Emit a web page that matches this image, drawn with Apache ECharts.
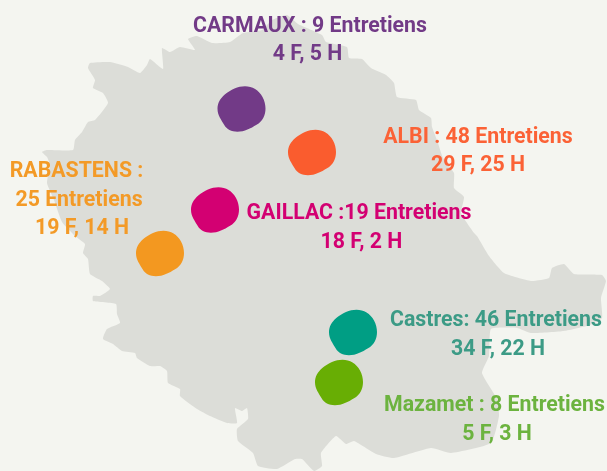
<!DOCTYPE html>
<html>
<head>
<meta charset="utf-8">
<style>
  html, body { margin: 0; padding: 0; background: #f4f5f0; }
  #chart { width: 607px; height: 471px; }
</style>
<script src="https://cdn.jsdelivr.net/npm/echarts@6/dist/echarts.min.js"></script>
</head>
<body>
<div id="chart"></div>
<script>
// villes et points sur la carte
var cities = ['CARMAUX', 'ALBI', 'GAILLAC', 'RABASTENS', 'Castres', 'Mazamet'];
var cityX = [241.5, 312, 215, 160, 353, 339];
var cityY = [109, 152.5, 210, 253.5, 332.5, 382.5];
var cityColors = ['#723a87', '#fa5c2e', '#d30072', '#f39820', '#009e84', '#68ae04'];

// texte, ligne par ligne
var lineTexts = [
  'CARMAUX : 9 Entretiens', '4 F, 5 H',
  'ALBI : 48 Entretiens', '29 F, 25 H',
  'GAILLAC :19 Entretiens', '18 F, 2 H',
  'RABASTENS :', '25 Entretiens', '19 F, 14 H',
  'Castres: 46 Entretiens', '34 F, 22 H',
  'Mazamet : 8 Entretiens', '5 F, 3 H'
];
var lineX = [310, 307.5, 478, 478, 359, 361.5, 76.5, 79, 82, 496, 498, 494.5, 497];
var lineY = [27, 55, 137.5, 165.5, 214, 242.5, 171.5, 200.5, 228.5, 320.5, 349.5, 405.5, 434.5];
var lineColors = [
  '#723a87', '#723a87', '#fb6236', '#fb6236', '#d30072', '#d30072',
  '#f39a27', '#f39a27', '#f39a27', '#3c9b86', '#3c9b86', '#6cb33f', '#6cb33f'
];

// contour du Tarn
var outline = [
  [90,63],[110,62],[128,67],[140,73],[147,65],[150,59],[163,69],[162,48],[170,52],[180,47],
  [195,50],[188,39],[197,36],[212,43],[230,42],[243,33],[262,30],[272,20],[287,15],[298,24],
  [322,35],[326,42],[347,47],[349,58],[362,59],[371,68],[386,75],[394,83],[397,97],[416,100],
  [419,110],[431,118],[432,127],[437,140],[443,158],[454,173],[454,188],[464,197],[461,213],[474,233],
  [477,236],[489,256],[504,273],[531,281],[549,278],[552,268],[564,264],[574,274],[602,275],[606,281],
  [601,298],[602,318],[590,325],[564,331],[531,333],[517,328],[491,329],[489,356],[482,373],[497,399],
  [499,416],[491,443],[451,453],[431,448],[394,458],[376,454],[354,441],[346,444],[336,436],[321,453],
  [322,466],[314,471],[302,459],[295,459],[277,469],[258,466],[253,453],[238,441],[237,429],[248,419],
  [247,408],[242,411],[235,408],[237,423],[227,423],[210,416],[197,409],[180,396],[180,389],[168,383],
  [167,371],[160,366],[150,366],[137,358],[135,353],[122,351],[113,344],[103,339],[107,329],[120,323],
  [117,314],[116,304],[93,301],[93,296],[100,296],[110,289],[102,281],[90,274],[88,259],[83,253],
  [85,244],[75,236],[62,222],[54,200],[47,183],[50,165],[47,157],[42,152],[47,150],[73,150],
  [75,140],[82,132],[88,122],[95,120],[108,103],[103,93],[93,88],[95,80],[88,68]
];

var blob = 'path://M83 0C105 0 125 12 136 32C142 43 145 55 145 67C145 88 136 106 118 116C100 127 82 137 60 137C42 137 28 130 20 116C12 102 0 88 0 68C0 50 8 38 22 25C40 10 62 0 83 0Z';

var chart = echarts.init(document.getElementById('chart'));
chart.setOption({
  backgroundColor: '#f4f5f0',
  animation: false,
  grid: { left: 0, right: 0, top: 0, bottom: 0 },
  xAxis: { type: 'value', min: 0, max: 607, show: false },
  yAxis: { type: 'value', min: 0, max: 471, inverse: true, show: false },
  series: [
    {
      type: 'custom',
      coordinateSystem: 'cartesian2d',
      silent: true,
      z: 1,
      data: [0],
      renderItem: function (params, api) {
        return {
          type: 'polygon',
          shape: {
            points: outline.map(function (p) { return api.coord(p); }),
            smooth: 0.15
          },
          style: { fill: '#dcddd8' }
        };
      }
    },
    {
      type: 'scatter',
      z: 2,
      symbol: blob,
      symbolSize: [48, 45.5],
      data: cities.map(function (name, i) {
        return { name: name, value: [cityX[i], cityY[i]], itemStyle: { color: cityColors[i], opacity: 1 } };
      })
    },
    {
      type: 'scatter',
      z: 3,
      symbolSize: 0,
      data: lineTexts.map(function (t, i) {
        return {
          value: [lineX[i], lineY[i]],
          itemStyle: { opacity: 1 },
          label: {
            show: true,
            position: 'inside',
            formatter: t,
            color: lineColors[i],
            opacity: 1,
            fontFamily: 'Roboto',
            fontWeight: 'bold',
            fontSize: 21.3
          }
        };
      })
    }
  ]
});
</script>
</body>
</html>
